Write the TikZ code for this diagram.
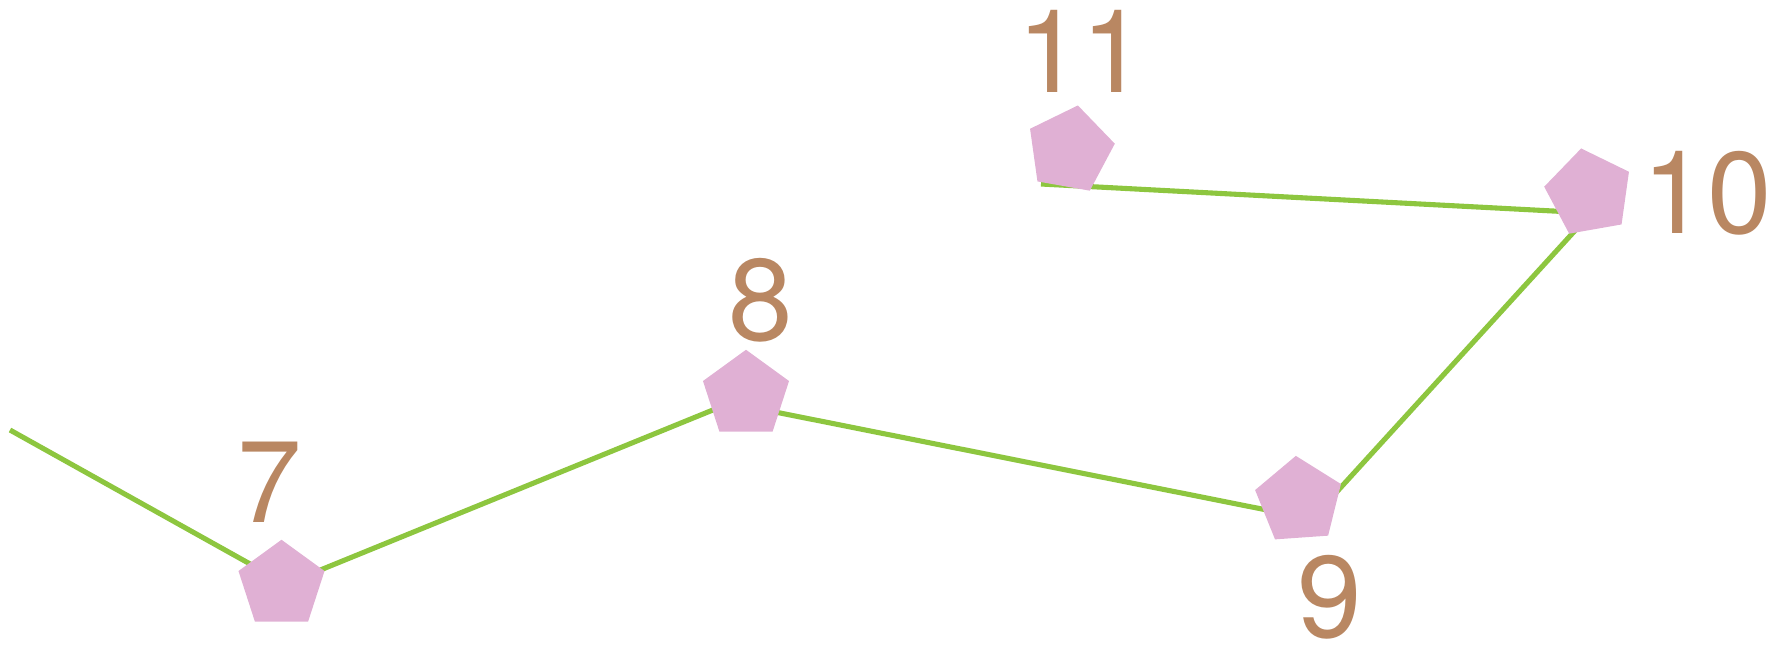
\documentclass[tikz,border=0pt]{standalone}
\usepackage{fontspec}
\setmainfont{TeX Gyre Heros}
\usetikzlibrary{shapes.geometric}
\definecolor{bondgreen}{RGB}{141,198,63}
\definecolor{ringpink}{RGB}{224,176,212}
\definecolor{numbrown}{RGB}{185,135,98}
\begin{document}
\begin{tikzpicture}[x=0.02cm, y=-0.02cm,
    ring/.style={regular polygon, regular polygon sides=5, fill=ringpink, minimum size=1.81cm, inner sep=0pt},
    num/.style={text=numbrown, inner sep=0pt, font=\fontsize{66}{66}\selectfont},
    bond/.style={draw=bondgreen, line width=2.9pt}]
\useasboundingbox (0,0) rectangle (1782,650);

% chain points
\coordinate (start) at (10,430);
\coordinate (c7) at (286,584);
\coordinate (c8) at (730,403);
\coordinate (c9) at (1312,519);
\coordinate (c10) at (1591,213);
\coordinate (c11) at (1041,184);

% bonds
\draw[bond] (start) -- (c7) -- (c8) -- (c9) -- (c10) -- (c11);

% pentagons
\node[ring] (p7) at (281.5,585) {};
\node[ring] (p8) at (746,395) {};
\node[ring, shape border rotate=4] (p9) at (1299,501) {};
\node[ring, shape border rotate=10] (p10) at (1589,193) {};
\node[ring, shape border rotate=-10] (p11) at (1070,150) {};

% numbers
\node[num] (n7) at (270,482.5) {7};
\node[num] (n8) at (760.5,300) {8};
\node[num] (n9) at (1330,597) {9};
\node[num] (n10) at (1707,193.5) {10};
\node[num] (n11) at (1081.5,51.5) {11};

\end{tikzpicture}
\end{document}
